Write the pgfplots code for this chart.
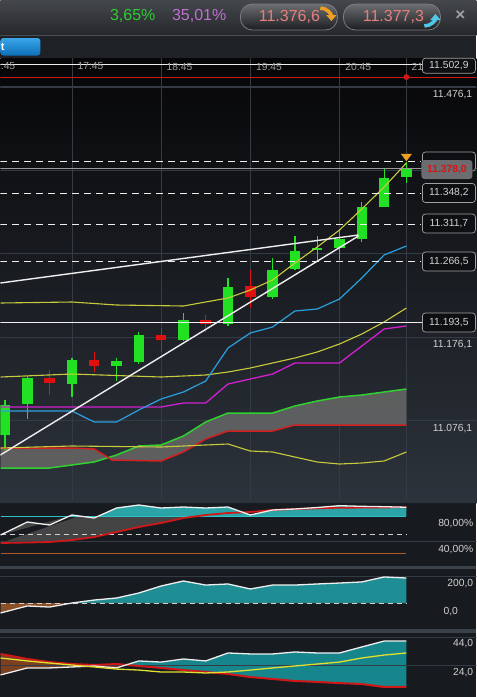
\documentclass[border=0pt]{standalone}
\usepackage{fontspec}
\setmainfont{Liberation Sans}
\usepackage{pgfplots}
\pgfplotsset{compat=1.18}
\usepgfplotslibrary{fillbetween}
\usepackage{pgfplotstable}
\usetikzlibrary{arrows.meta}

\definecolor{topA}{HTML}{44474C}
\definecolor{topB}{HTML}{25272B}
\definecolor{barB}{HTML}{1E2126}
\definecolor{sepl}{HTML}{4A4D52}
\definecolor{chartTop}{HTML}{060607}
\definecolor{chartBot}{HTML}{2D333C}
\definecolor{panelbg}{HTML}{171A1F}
\definecolor{sepc}{HTML}{3B4148}
\definecolor{gridc}{HTML}{353B44}
\definecolor{cgreen}{HTML}{22E022}
\definecolor{cred}{HTML}{E01010}
\definecolor{yel}{HTML}{C8CC3C}
\definecolor{bluel}{HTML}{2AA0E0}
\definecolor{magl}{HTML}{D020D0}
\definecolor{cloudg}{HTML}{30D030}
\definecolor{cloudr}{HTML}{D02020}
\definecolor{cloudf}{HTML}{646464}
\definecolor{whitel}{HTML}{EEEEEE}
\definecolor{greyl}{HTML}{9A9A9A}
\definecolor{redline}{HTML}{D01818}
\definecolor{orangec}{HTML}{F0A020}
\definecolor{cyanA}{HTML}{50C8E8}
\definecolor{lbltext}{HTML}{D0D0D0}
\definecolor{boxedge}{HTML}{A0A0A0}
\definecolor{boxfill}{HTML}{0E0F12}
\definecolor{pillA}{HTML}{6B6D70}
\definecolor{pillB}{HTML}{1C1D20}
\definecolor{pillE}{HTML}{7A7C80}
\definecolor{pilltext}{HTML}{E58080}
\definecolor{pctgreen}{HTML}{2ECC2E}
\definecolor{pctviolet}{HTML}{C070D0}
\definecolor{btnA}{HTML}{3AA6E8}
\definecolor{btnB}{HTML}{0C6FB8}
\definecolor{p1teal}{HTML}{2AA4A6}
\definecolor{p1grey}{HTML}{444444}
\definecolor{cyanl}{HTML}{30C0C8}
\definecolor{orl}{HTML}{B05A28}
\definecolor{p2teal}{HTML}{1E8E94}
\definecolor{brownf}{HTML}{8C5028}
\definecolor{p3teal}{HTML}{17868C}
\definecolor{p3brown}{HTML}{7A4020}
\definecolor{p3yel}{HTML}{E0E030}
\definecolor{timec}{HTML}{A0A0A0}

\tikzset{fill between/on layer=main}
\pgfplotsset{
  panel/.style={scale only axis, width=476pt, xmin=-0.2063, xmax=21.139,
    anchor=south west, hide axis, clip=true},
}

% candles: t open high low close (15 min)
\pgfplotstableread{
t o h l c
0 11058.5 11100.5 11040.5 11094.5
1 11095.7 11129.3 11077.7 11126.9
3 11119.7 11150.9 11104.1 11148.5
5 11141.3 11150.9 11123.3 11147.3
6 11146.1 11182.1 11143.7 11178.5
8 11172.5 11204.9 11171.3 11196.5
10 11191.7 11246.9 11189.3 11236.1
12 11224.1 11270.9 11221.7 11256.5
13 11257.7 11297.3 11256.5 11279.3
14 11280.5 11297.3 11267.3 11282.9
15 11282.9 11304.5 11268.5 11293.7
16 11293.7 11338.1 11290.1 11332.1
17 11332.1 11378.9 11332.1 11366.9
18 11368.1 11386.1 11360.9 11378.0
}\upc
\pgfplotstableread{
t o h l c
2 11126.9 11136.5 11106.5 11120.9
4 11148.5 11158.1 11134.1 11141.3
7 11178.5 11186.9 11158.1 11172.5
9 11196.5 11202.5 11182.1 11191.7
11 11237.3 11256.5 11210.9 11224.1
}\downc

\pgfplotstableread{
t p
-0.2 11216.9
3 11218.1
5 11214.5
8 11213.3
10 11222.9
11 11232.5
12 11244.5
13 11264.9
14 11284.1
15 11304.5
16 11329.7
17 11356.1
18 11384.9
}\bbU
\pgfplotstableread{
t p
-0.2 11128.1
3 11131.7
7 11128.1
9 11130.5
10 11134.1
11 11138.9
12 11144.9
13 11150.9
14 11158.1
15 11167.7
16 11179.7
17 11194.1
18 11210.9
}\bbM
\pgfplotstableread{
t p
-0.2 11042.9
3 11045.3
7 11044.1
9 11046.5
10 11047.7
11 11039.3
12 11038.1
13 11032.1
14 11026.1
15 11023.7
16 11024.9
17 11027.3
18 11038.1
}\bbL
\pgfplotstableread{
t p
-0.2 11087.3
3 11087.3
4 11074.1
5 11074.1
6 11088.5
7 11101.7
8 11110.1
9 11123.3
10 11162.9
11 11180.9
12 11188.1
13 11207.3
14 11209.7
15 11221.7
16 11246.9
17 11274.5
18 11285.3
}\maB
\pgfplotstableread{
t p
-0.2 11092.1
7 11092.1
8 11096.9
9 11096.9
10 11119.7
11 11125.7
12 11131.7
13 11144.9
15 11144.9
16 11165.3
17 11185.7
18 11189.3
}\maM
\pgfplotstableread{
t p
-0.2 11018.9
2 11018.9
3 11022.5
4 11026.1
5 11034.5
6 11045.3
7 11046.5
8 11057.3
9 11074.1
10 11084.9
12 11084.9
13 11093.3
14 11099.3
15 11104.1
16 11106.5
17 11110.1
18 11113.7
}\cG
\pgfplotstableread{
t p
-0.2 11042.9
3 11042.9
4 11041.7
4.8 11028.5
7 11027.3
8 11038.1
9 11053.7
10 11063.3
12 11063.3
13 11070.5
18 11070.5
}\cR

% panel 1 (%)
\pgfplotstableread{
t v
-0.2 49.6
1 70.4
2 65.6
3 81.6
4 76.8
5 92.8
6 97.6
7 92.8
8 94.4
9 92.8
10 94.4
11 81.6
12 89.6
13 91.2
14 93.6
15 96.5
16 95.5
17 94.9
18 94.0
}\pw
\pgfplotstableread{
t v
-0.2 36.8
1 37.6
2 38.4
3 41.6
4 46.4
5 54.4
6 62.4
7 68.8
8 76.8
9 81.6
10 84.8
11 86.4
12 89.6
13 91.2
14 92.3
15 93.3
16 93.5
17 93.8
18 94.0
}\pr
% panel 2
\pgfplotstableread{
t v
-0.2 -74
1 -22
2 -30
3 0
4 22
5 37
6 74
7 126
8 163
9 133
10 141
11 104
12 133
13 133
14 141
15 148
16 156
17 193
18 185
}\qw
% panel 3
\pgfplotstableread{
t v
-0.2 16.9
1 21.9
2 21.9
3 22.6
4 23.3
5 21.9
6 26.9
7 26.1
8 28.3
9 26.9
10 32.6
11 31.9
12 31.9
13 33.3
14 32.6
15 32.6
16 36.9
17 41.1
18 41.1
}\dw
\pgfplotstableread{
t v
-0.2 31.9
1 28.3
2 26.1
3 24.7
4 24.0
5 24.7
6 23.3
7 21.9
8 20.4
9 19.0
10 17.6
11 15.4
12 14.0
13 12.6
14 11.9
15 11.1
16 10.4
17 8.3
18 8.3
}\dr
\pgfplotstableread{
t v
-0.2 29.0
1 26.9
2 25.4
3 24.0
4 22.6
5 21.1
6 20.4
7 19.0
8 19.0
9 18.3
10 19.0
11 20.4
12 21.9
13 23.3
14 24.7
15 26.1
16 29.0
17 31.1
18 32.6
}\dy

\tikzset{
  lbl/.style={font=\fontsize{10.3}{12}\selectfont, text=lbltext, inner sep=0pt},
  boxlbl/.style={draw=boxedge, fill=boxfill, rounded corners=3pt, line width=0.7pt,
    minimum width=53pt, minimum height=19pt, inner sep=0pt,
    font=\fontsize{10.3}{12}\selectfont, text=lbltext},
}

\begin{document}
\begin{tikzpicture}[x=1pt,y=1pt]
% backgrounds
\shade[top color=topA, bottom color=topB] (0,0) rectangle (476,-35);
\fill[barB] (0,-35) rectangle (476,-58);
\draw[sepl, line width=0.8pt] (0,-35) -- (476,-35);
\shade[top color=chartTop, bottom color=chartBot] (0,-58) rectangle (476,-503);
\fill[panelbg] (0,-503) rectangle (476,-697);
\fill[sepc] (0,-566) rectangle (476,-569.3);
\fill[sepc] (0,-629.3) rectangle (476,-632.7);

% ===== main price chart =====
\begin{axis}[panel, at={(0pt,-500pt)}, height=442pt, ymin=10980.5, ymax=11510.9]
% grid
\addplot[gridc, line width=0.6pt] coordinates {(3,10980.5) (3,11510.9)};
\addplot[gridc, line width=0.6pt] coordinates {(7,10980.5) (7,11510.9)};
\addplot[gridc, line width=0.6pt] coordinates {(11,10980.5) (11,11510.9)};
\addplot[gridc, line width=0.6pt] coordinates {(15,10980.5) (15,11510.9)};
\addplot[gridc, line width=0.6pt] coordinates {(18,10980.5) (18,11510.9)};
\addplot[gridc, line width=0.6pt] coordinates {(-0.21,11076.1) (21.2,11076.1)};
\addplot[gridc, line width=0.6pt] coordinates {(-0.21,11176.1) (21.2,11176.1)};
\addplot[gridc, line width=0.6pt] coordinates {(-0.21,11276.1) (21.2,11276.1)};
\addplot[gridc, line width=0.6pt] coordinates {(-0.21,11376.1) (21.2,11376.1)};
\addplot[gridc, line width=0.6pt] coordinates {(-0.21,11476.1) (21.2,11476.1)};
% cloud
\addplot[draw=none, name path=cg] table {\cG};
\addplot[draw=none, name path=cr] table {\cR};
\addplot[fill=cloudf, fill opacity=0.9] fill between[of=cg and cr];
% candles
\addplot[draw=none, mark=none, error bars/.cd, y dir=both, y explicit, error mark=none,
  error bar style={draw=cgreen, line width=1.2pt}]
  table[x=t, y=c, y error plus expr=\thisrow{h}-\thisrow{c}, y error minus expr=\thisrow{c}-\thisrow{l}] {\upc};
\addplot[draw=none, mark=none, error bars/.cd, y dir=minus, y explicit, error mark=none,
  error bar style={draw=cgreen, line width=10.5pt}]
  table[x=t, y=c, y error minus expr=\thisrow{c}-\thisrow{o}] {\upc};
\addplot[draw=none, mark=none, error bars/.cd, y dir=both, y explicit, error mark=none,
  error bar style={draw=cred, line width=1.2pt}]
  table[x=t, y=c, y error plus expr=\thisrow{h}-\thisrow{c}, y error minus expr=\thisrow{c}-\thisrow{l}] {\downc};
\addplot[draw=none, mark=none, error bars/.cd, y dir=plus, y explicit, error mark=none,
  error bar style={draw=cred, line width=10.5pt}]
  table[x=t, y=c, y error plus expr=\thisrow{o}-\thisrow{c}] {\downc};
% indicator lines
\addplot[cloudg, line width=1.5pt] table {\cG};
\addplot[cloudr, line width=1.5pt] table {\cR};
\addplot[yel, line width=1.1pt] table {\bbL};
\addplot[yel, line width=1.1pt] table {\bbM};
\addplot[yel, line width=1.1pt] table {\bbU};
\addplot[magl, line width=1.3pt] table {\maM};
\addplot[bluel, line width=1.2pt] table {\maB};
% horizontal levels
\addplot[greyl, line width=0.8pt] coordinates {(-0.21,11378.0) (21.2,11378.0)};
\addplot[whitel, line width=1pt, dash pattern=on 7pt off 5pt] coordinates {(-0.21,11386.7) (18.63,11386.7)};
\addplot[whitel, line width=1pt, dash pattern=on 7pt off 5pt] coordinates {(-0.21,11348.2) (18.63,11348.2)};
\addplot[whitel, line width=1pt, dash pattern=on 7pt off 5pt] coordinates {(-0.21,11311.7) (18.63,11311.7)};
\addplot[whitel, line width=1pt, dash pattern=on 7pt off 5pt] coordinates {(-0.21,11266.5) (18.63,11266.5)};
\addplot[whitel, line width=1.3pt] coordinates {(-0.21,11193.5) (18.75,11193.5)};
\addplot[whitel, line width=1.3pt] coordinates {(-0.21,11502.9) (18.72,11502.9)};
\addplot[redline, line width=1pt] coordinates {(-0.21,11488.1) (21.2,11488.1)};
% trend lines
\addplot[whitel, line width=1.4pt] coordinates {(-0.21,11240.9) (15.85,11298.5)};
\addplot[whitel, line width=1.4pt] coordinates {(-0.21,11034.5) (15.85,11297.3)};
% markers
\addplot[only marks, mark=*, mark size=2.6pt, color=redline] coordinates {(18,11488.1)};
\addplot[only marks, mark=triangle*, mark size=4.5pt, mark options={rotate=180, xscale=1.3, fill=orangec, draw=orangec}] coordinates {(18,11392.9)};
\end{axis}

% ===== panel 1 =====
\begin{axis}[panel, at={(0pt,-566pt)}, height=62.5pt, ymin=0, ymax=100]
\addplot[draw=none, name path=w1] table {\pw};
\addplot[draw=none, name path=r1] table {\pr};
\addplot[draw=none, name path=c1] coordinates {(-0.2,80) (18,80)};
\addplot[fill=p1teal] fill between[of=w1 and c1, soft clip={domain y=79.5:100}];
\addplot[fill=p1grey] fill between[of=w1 and r1, soft clip={domain y=0:80}];
\addplot[gridc, line width=0.6pt] coordinates {(-0.21,40) (21.2,40)};
\addplot[cyanl, line width=1pt] coordinates {(-0.2,80) (18,80)};
\addplot[lbltext, line width=0.8pt, dash pattern=on 5pt off 4pt] coordinates {(-0.2,50) (18,50)};
\addplot[orl, line width=0.8pt] coordinates {(-0.2,20) (18,20)};
\addplot[redline, line width=1.8pt] table {\pr};
\addplot[whitel, line width=1.3pt] table {\pw};
\end{axis}

% ===== panel 2 =====
\begin{axis}[panel, at={(0pt,-630pt)}, height=61pt, ymin=-200, ymax=251.8]
\addplot[draw=none, name path=w2] table {\qw};
\addplot[draw=none, name path=z2] coordinates {(-0.2,0) (18,0)};
\addplot[fill=p2teal] fill between[of=w2 and z2, soft clip={domain y=-1:250}];
\addplot[fill=brownf] fill between[of=w2 and z2, soft clip={domain y=-199:1}];
\addplot[gridc, line width=0.6pt] coordinates {(-0.21,200) (21.2,200)};
\addplot[lbltext, line width=0.8pt, dash pattern=on 5pt off 4pt] coordinates {(-0.2,0) (18,0)};
\addplot[whitel, line width=1.3pt] table {\qw};
\end{axis}

% ===== panel 3 =====
\begin{axis}[panel, at={(0pt,-697pt)}, height=64pt, ymin=1.14, ymax=46.86]
\addplot[draw=none, name path=w3] table {\dw};
\addplot[draw=none, name path=r3] table {\dr};
\addplot[fill=p3brown] fill between[of=w3 and r3, soft clip={domain=-1:5.44}];
\addplot[fill=p3teal] fill between[of=w3 and r3, soft clip={domain=5.44:19}];
\addplot[gridc, line width=0.6pt] coordinates {(-0.21,44) (21.2,44)};
\addplot[gridc, line width=0.6pt] coordinates {(-0.21,24) (21.2,24)};
\addplot[redline, line width=2pt] table {\dr};
\addplot[whitel, line width=1.3pt] table {\dw};
\addplot[p3yel, line width=1.3pt] table {\dy};
\end{axis}

% ===== top bar =====
\node[anchor=west, inner sep=0pt, text=pctgreen, font=\fontsize{16}{18}\selectfont] at (109.5,-15.5) {3,65\%};
\node[anchor=west, inner sep=0pt, text=pctviolet, font=\fontsize{16}{18}\selectfont] at (171.5,-15.5) {35,01\%};
\shadedraw[top color=pillA, bottom color=pillB, draw=pillE, line width=0.8pt, rounded corners=12pt] (240,-4) rectangle (337,-30);
\shadedraw[top color=pillA, bottom color=pillB, draw=pillE, line width=0.8pt, rounded corners=12pt] (343,-4) rectangle (440,-30);
\node[inner sep=0pt, text=pilltext, font=\fontsize{16}{18}\selectfont] at (289,-16.5) {11.376,6};
\node[inner sep=0pt, text=pilltext, font=\fontsize{16}{18}\selectfont] at (393,-16.5) {11.377,3};
\draw[orangec, line width=3.5pt, -{Triangle[length=6pt,width=10pt]}] (320,-8) to[out=0,in=90] (331,-21);
\draw[cyanA, line width=3.5pt, -{Triangle[length=6pt,width=10pt]}] (424,-26) to[out=0,in=-90] (435,-14);
\node[inner sep=0pt, text=boxedge, font=\bfseries\fontsize{17}{18}\selectfont] at (460,-16) {×};
% blue button
\shade[top color=btnA, bottom color=btnB, rounded corners=3pt] (0,-38) rectangle (40,-55.5);
\node[anchor=west, inner sep=0pt, text=white, font=\bfseries\fontsize{11}{12}\selectfont] at (0.3,-46.5) {t};

% ===== time labels =====
\node[anchor=west, inner sep=0pt, text=timec, font=\fontsize{10.3}{12}\selectfont] at (0.3,-66.5) {:45};
\foreach \xx/\tt in {77/17:45, 166/18:45, 255.5/19:45, 344.8/20:45, 411/21}{
  \node[anchor=west, inner sep=0pt, text=timec, font=\fontsize{10.3}{12}\selectfont] at (\xx,-66.5) {\tt};
}
\draw[gridc, line width=0.6pt] (0,-86.5) -- (476,-86.5);

% ===== price labels =====
\node[boxlbl, minimum height=15pt] at (448.5,-65.7) {11.502,9};
\node[lbl, anchor=east] at (472,-95) {11.476,1};
\node[boxlbl] at (448.5,-161.5) {};
\node[draw=none, fill=pillA, rounded corners=3pt, minimum width=51pt, minimum height=19pt, inner sep=0pt,
  text=cred, font=\bfseries\fontsize{10.3}{12}\selectfont] at (446.5,-169.5) {11.378,0};
\node[boxlbl] at (448.5,-193) {11.348,2};
\node[boxlbl] at (448.5,-223.5) {11.311,7};
\node[boxlbl] at (448.5,-261.5) {11.266,5};
\node[boxlbl] at (448.5,-322.5) {11.193,5};
\node[lbl, anchor=east] at (472,-345) {11.176,1};
\node[lbl, anchor=east] at (472,-428.5) {11.076,1};

% ===== panel labels =====
\node[lbl, anchor=east] at (473,-524) {80,00\%};
\node[lbl, anchor=east] at (473,-550) {40,00\%};
\node[lbl, anchor=east] at (473,-584) {200,0};
\node[lbl, anchor=west] at (443,-612) {0,0};
\node[lbl, anchor=east] at (473,-644) {44,0};
\node[lbl, anchor=east] at (473,-673) {24,0};
\end{tikzpicture}
\end{document}
